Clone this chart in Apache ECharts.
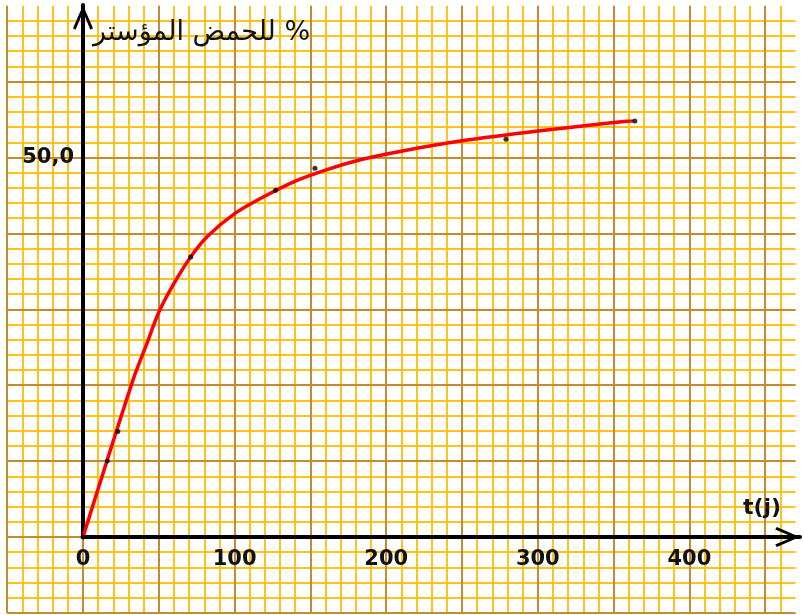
<!DOCTYPE html>
<html><head><meta charset="utf-8">
<script src="https://cdn.jsdelivr.net/npm/echarts@6/dist/echarts.min.js"></script>
<style>html,body{margin:0;padding:0;background:#fff}#c{width:804px;height:615px}</style>
</head><body><div id="c"></div>
<script>
// ---- data ----
const tDays    = [0, 16, 23, 71, 127, 153, 279, 364];
const esterPct = [0, 10.0, 13.9, 36.9, 45.7, 48.6, 52.4, 54.8];
// fitted curve
const curveT = [0, 33, 42, 50, 60, 71, 82, 100, 117, 139, 161, 183, 209, 250, 300, 350, 363];
const curveY = [0, 20.7, 25.4, 29.6, 33.4, 36.9, 39.6, 42.6, 44.6, 46.8, 48.4, 49.7, 50.8, 52.2, 53.5, 54.6, 54.85];
const xTickLabels = ['0', '100', '200', '300', '400'];
const yTickLabels = {50: '50,0'};
const yTitle = 'للحمض المؤستر %';
const xTitle = 't(j)';

// ---- layout ----
const W = 804, H = 615;
const PX_X = 1.516, PX_Y = 7.59;
const OX = 83, OY = 537;
const paper = {xMin: -50, xMax: 470, yMin: -10, yMax: 70};
const axisEndX = 800, axisEndY = 5;

const MINOR = '#FFC21A', MAJOR = '#C38C33';
const FONT = 'DejaVu Sans';

const chart = echarts.init(document.getElementById('c'), null, {renderer: 'canvas'});

const hidden = {axisLine: {show: false}, axisTick: {show: false}, axisLabel: {show: false}};
function paperAxis(min, max, interval, color, z) {
  return Object.assign({type: 'value', gridIndex: 0, min, max, interval, z,
    splitLine: {show: true, showMinLine: true, showMaxLine: false, lineStyle: {color, width: 2}}}, hidden);
}
const arrowPath = 'path://M10,0 L20,23 L17.4,24.6 L10,6.8 L2.6,24.6 L0,23 Z';

chart.setOption({
  animation: false,
  backgroundColor: '#ffffff',
  grid: [
    {left: OX + paper.xMin * PX_X, right: W - (OX + paper.xMax * PX_X),
     top: OY - paper.yMax * PX_Y, bottom: H - (OY - paper.yMin * PX_Y), containLabel: false},
    {left: OX, right: W - axisEndX, top: axisEndY, bottom: H - OY, containLabel: false}
  ],
  xAxis: [
    paperAxis(paper.xMin, paper.xMax, 10, MINOR, 0),
    paperAxis(paper.xMin, paper.xMax, 50, MAJOR, 1),
    {type: 'value', gridIndex: 1, min: 0, max: (axisEndX - OX) / PX_X, interval: 100, z: 5,
     splitLine: {show: false}, axisTick: {show: false},
     axisLine: {show: true, onZero: false, symbol: ['none', arrowPath], symbolSize: [20, 25], symbolOffset: [0, -12.5],
                lineStyle: {color: '#000', width: 4}},
     axisLabel: {show: true, showMaxLabel: false, margin: 12, color: '#111',
                 fontFamily: FONT, fontWeight: 'bold', fontSize: 21,
                 formatter: v => { const i = Math.round(v / 100); return (Math.abs(v - i * 100) < 1e-6 && i < xTickLabels.length) ? xTickLabels[i] : ''; }}}
  ],
  yAxis: [
    paperAxis(paper.yMin, paper.yMax, 2, MINOR, 0),
    paperAxis(paper.yMin, paper.yMax, 10, MAJOR, 1),
    {type: 'value', gridIndex: 1, min: 0, max: (OY - axisEndY) / PX_Y, interval: 50, z: 5,
     splitLine: {show: false}, axisTick: {show: false},
     axisLine: {show: true, onZero: false, symbol: ['none', arrowPath], symbolSize: [20, 25], symbolOffset: [0, -12.5],
                lineStyle: {color: '#000', width: 4}},
     axisLabel: {show: true, showMaxLabel: false, margin: 9, color: '#111',
                 fontFamily: FONT, fontWeight: 'bold', fontSize: 21,
                 formatter: v => yTickLabels[Math.round(v)] && Math.abs(v - Math.round(v)) < 1e-6 ? yTickLabels[Math.round(v)] : ''}}
  ],
  graphic: [
    {type: 'text', left: 93, top: 19, z: 20,
     style: {text: yTitle, fill: '#111', font: '27px "' + FONT + '"'}},
    {type: 'text', left: 743, top: 497, z: 20,
     style: {text: xTitle, fill: '#111', font: 'bold 22px "' + FONT + '"'}}
  ],
  series: [
    {type: 'line', xAxisIndex: 2, yAxisIndex: 2, z: 10, smooth: 0.3, showSymbol: false,
     lineStyle: {color: '#FF0000', width: 3.5},
     data: curveT.map((t, i) => [t, curveY[i]])},
    {type: 'scatter', xAxisIndex: 2, yAxisIndex: 2, z: 11, symbol: 'circle', symbolSize: 5,
     itemStyle: {color: '#000'},
     data: tDays.map((t, i) => [t, esterPct[i]])}
  ]
});
</script></body></html>
